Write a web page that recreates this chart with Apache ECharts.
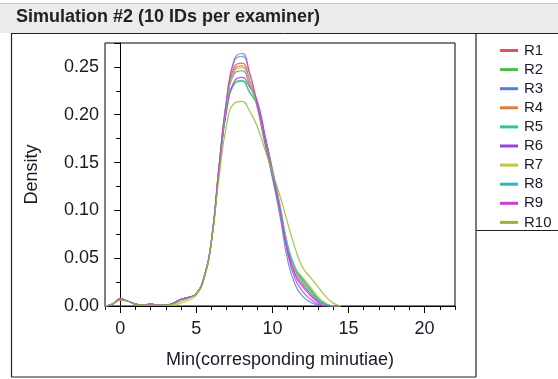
<!DOCTYPE html>
<html><head><meta charset="utf-8">
<script src="https://cdn.jsdelivr.net/npm/echarts@6/dist/echarts.min.js"></script>
<style>html,body{margin:0;padding:0;background:#fff}#c{width:558px;height:379px}</style>
</head><body><div id="c"></div>
<script>
var titleText = 'Simulation #2 (10 IDs per examiner)';
var xLabel = 'Min(corresponding minutiae)';
var yLabel = 'Density';
var seriesNames = ['R1','R2','R3','R4','R5','R6','R7','R8','R9','R10'];
var xTicks = [0, 5, 10, 15, 20];
var xMinorTicks = [-1,1,2,3,4,6,7,8,9,11,12,13,14,16,17,18,19,21,22];
var xs = [-1,-0.5,0,0.5,1,1.5,2,2.5,3,3.5,4,4.5,5,5.5,6,6.5,7,7.5,8,8.5,9,9.5,10,10.5,11,11.5,12,12.5,13,13.5,14,14.5];
var R1 = [0,0.002,0.007,0.005,0.002,0.001,0.002,0.001,0.001,0.003,0.007,0.009,0.013,0.029,0.069,0.146,0.214,0.250,0.254,0.236,0.208,0.170,0.136,0.100,0.058,0.034,0.022,0.013,0.005,0.001,0,0];
var R2 = [0,0.002,0.007,0.005,0.002,0.001,0.002,0.001,0.001,0.003,0.007,0.009,0.013,0.029,0.068,0.143,0.205,0.232,0.235,0.223,0.210,0.177,0.141,0.104,0.062,0.038,0.026,0.016,0.007,0.001,0,0];
var R3 = [0,0.002,0.007,0.005,0.002,0.001,0.002,0.001,0.001,0.003,0.007,0.009,0.013,0.029,0.068,0.144,0.210,0.243,0.246,0.231,0.210,0.172,0.134,0.094,0.048,0.022,0.010,0.004,0.001,0,0,0];
var R4 = [0,0.002,0.007,0.005,0.002,0.001,0.002,0.001,0.001,0.003,0.007,0.009,0.013,0.029,0.069,0.145,0.213,0.247,0.251,0.234,0.211,0.176,0.140,0.104,0.063,0.040,0.028,0.018,0.008,0.002,0,0];
var R5 = [0,0.002,0.007,0.005,0.002,0.001,0.002,0.001,0.001,0.003,0.007,0.009,0.013,0.029,0.068,0.143,0.206,0.233,0.236,0.224,0.211,0.178,0.142,0.104,0.064,0.040,0.028,0.018,0.008,0.002,0,0];
var R6 = [0,0.002,0.007,0.005,0.002,0.001,0.002,0.001,0.001,0.003,0.007,0.009,0.013,0.029,0.068,0.143,0.207,0.235,0.239,0.229,0.215,0.180,0.143,0.103,0.058,0.032,0.020,0.011,0.004,0,0,0];
var R7 = [0,0.002,0.006,0.005,0.002,0.001,0.002,0.001,0.001,0.001,0.003,0.006,0.011,0.028,0.068,0.145,0.212,0.245,0.249,0.233,0.210,0.176,0.142,0.106,0.064,0.040,0.030,0.020,0.010,0.003,0,0];
var R8 = [0,0.002,0.007,0.005,0.002,0.001,0.002,0.001,0.001,0.003,0.007,0.009,0.013,0.030,0.070,0.147,0.216,0.256,0.261,0.243,0.210,0.175,0.140,0.103,0.062,0.038,0.024,0.014,0.006,0.002,0,0];
var R9 = [0,0.002,0.008,0.005,0.002,0.001,0.002,0.001,0.001,0.003,0.007,0.009,0.013,0.030,0.070,0.148,0.218,0.258,0.264,0.244,0.212,0.176,0.140,0.100,0.055,0.028,0.015,0.007,0.002,0,0,0];
var R10 = [0,0.002,0.006,0.005,0.002,0.001,0.001,0.001,0.001,0.002,0.005,0.008,0.013,0.028,0.068,0.135,0.190,0.212,0.214,0.204,0.188,0.164,0.140,0.115,0.087,0.060,0.040,0.030,0.020,0.010,0.003,0];
var seriesValues = [R1,R2,R3,R4,R5,R6,R7,R8,R9,R10];
var colors = ['#e0525e','#4cbb4c','#4f7fe6','#dd7f3a','#2fc49a','#9f3fe0','#c9c43a','#2fb8c0','#d23ad2','#96b82e'];

var chart = echarts.init(document.getElementById('c'), null, {renderer:'canvas'});
var font = 'Arial, "Liberation Sans", sans-serif';
var series = seriesNames.map(function(n, i){
  return {
    name: n, type: 'line', xAxisIndex: 0, yAxisIndex: 0,
    data: xs.map(function(x, j){ return [x, seriesValues[i][j]]; }),
    smooth: 0.5, showSymbol: false, symbol: 'none',
    lineStyle: {width: 1.2, color: colors[i], opacity: 0.85},
    itemStyle: {color: colors[i]},
    z: 3
  };
});
var option = {
  animation: false,
  backgroundColor: '#fff',
  color: colors,
  grid: {left: 105, right: 103, top: 43, bottom: 73, show: true, borderColor: '#000', borderWidth: 1, backgroundColor: 'transparent'},
  xAxis: [{
    type: 'value', min: -1, max: 22, position: 'bottom',
    axisLine: {show: true, onZero: false, lineStyle: {color: '#000', width: 1}},
    axisTick: {show: true, length: 7, customValues: xTicks, lineStyle: {color: '#000'}},
    axisLabel: {customValues: xTicks, color: '#1a1a2a', fontSize: 18, fontFamily: font, margin: 14},
    splitLine: {show: false},
    name: xLabel, nameLocation: 'middle', nameGap: 45,
    nameTextStyle: {fontSize: 18, fontFamily: font, color: '#1a1a2a'}
  },{
    type: 'value', min: -1, max: 22, position: 'bottom',
    axisLine: {show: false, onZero: false},
    axisTick: {show: true, length: 4, customValues: xMinorTicks, lineStyle: {color: '#000'}},
    axisLabel: {show: false},
    splitLine: {show: false}
  }],
  yAxis: {
    type: 'value', min: 0, max: 0.275, interval: 0.05,
    axisLine: {show: true, lineStyle: {color: '#000'}},
    axisTick: {show: true, length: 6, lineStyle: {color: '#000'}},
    minorTick: {show: true, splitNumber: 2, length: 4, lineStyle: {color: '#000'}},
    axisLabel: {color: '#1a1a2a', fontSize: 18, fontFamily: font, margin: 6, formatter: function(v){ return v.toFixed(2); },
      showMaxLabel: false, padding: [4,0,0,0]},
    splitLine: {show: false},
    name: yLabel, nameLocation: 'middle', nameGap: 64, nameRotate: 90,
    nameTextStyle: {fontSize: 18, fontFamily: font, color: '#1a1a2a'}
  },
  legend: {
    orient: 'vertical', left: 495, top: 38,
    itemWidth: 18, itemHeight: 3, itemGap: 4.1, icon: 'rect',
    data: seriesNames,
    textStyle: {fontSize: 15, fontFamily: font, color: '#1a1a2a', lineHeight: 15, padding: [0,0,0,1]}
  },
  graphic: [
    {type: 'rect', shape: {x: 0, y: 3, width: 558, height: 30}, style: {fill: '#ebebeb'}, silent: true, z: -10},
    {type: 'line', shape: {x1: 0, y1: 3.5, x2: 558, y2: 3.5}, style: {stroke: '#c8c8c8', lineWidth: 1}, silent: true},
    {type: 'text', left: 16, top: 8, style: {text: titleText, font: 'bold 18px Arial, "Liberation Sans", sans-serif', fill: '#222'}, silent: true},
    {type: 'line', shape: {x1: 11.5, y1: 33, x2: 11.5, y2: 377}, style: {stroke: '#222', lineWidth: 1.2}, silent: true},
    {type: 'line', shape: {x1: 11, y1: 33.5, x2: 558, y2: 33.5}, style: {stroke: '#222', lineWidth: 1}, silent: true},
    {type: 'line', shape: {x1: 11, y1: 377, x2: 476, y2: 377}, style: {stroke: '#222', lineWidth: 1.2}, silent: true},
    {type: 'line', shape: {x1: 476, y1: 33, x2: 476, y2: 377}, style: {stroke: '#222', lineWidth: 1.2}, silent: true},
    {type: 'line', shape: {x1: 476, y1: 230.5, x2: 558, y2: 230.5}, style: {stroke: '#222', lineWidth: 1.2}, silent: true}
  ],
  series: series
};
chart.setOption(option);
</script>
</body></html>
